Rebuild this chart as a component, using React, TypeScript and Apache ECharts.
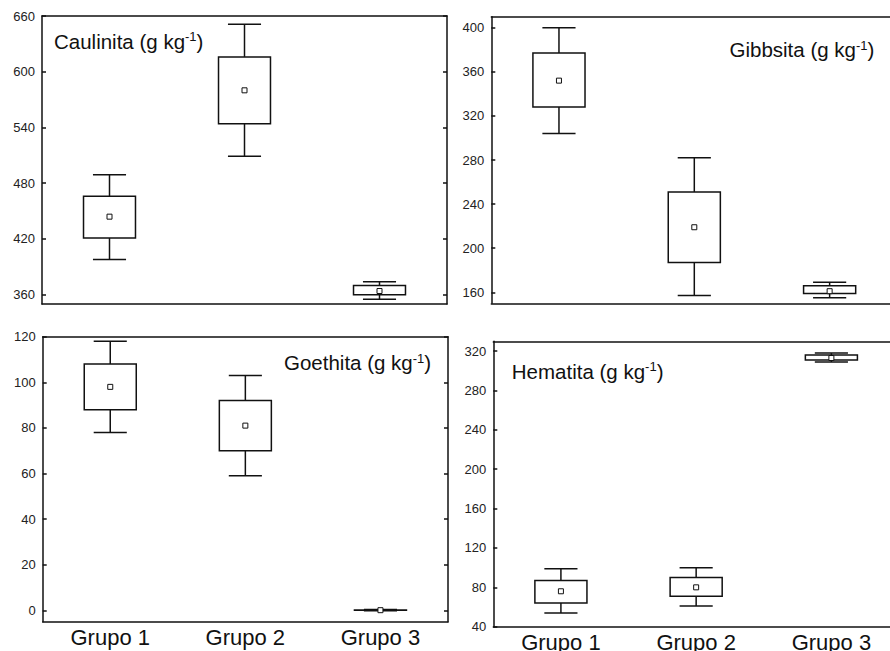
import React, { useEffect, useRef } from "react";
import * as echarts from "echarts";

const groups = ["Grupo 1", "Grupo 2", "Grupo 3"];

// each row: [min, Q1, Q3, max, mean]
const caulinita = [
  [398, 421, 466, 489, 444],
  [509, 544, 616, 651, 580],
  [355, 360, 370, 374, 364],
];
const gibbsita = [
  [304, 328, 377, 400, 352],
  [157, 187, 251, 282, 219],
  [155, 159, 166, 169, 161],
];
const goethita = [
  [78, 88, 108, 118, 98],
  [59, 70, 92, 103, 81],
  [-0.2, 0, 0.1, 0.3, 0.05],
];
const hematita = [
  [54, 64, 87, 99, 76],
  [61, 71, 90, 100, 80],
  [309, 311, 316, 318, 313],
];

const caulinitaTicks = [360, 420, 480, 540, 600, 660];
const gibbsitaTicks = [160, 200, 240, 280, 320, 360, 400];
const goethitaTicks = [0, 20, 40, 60, 80, 100, 120];
const hematitaTicks = [40, 80, 120, 160, 200, 240, 280, 320];

const FONT = "'Liberation Sans', Arial, Helvetica, sans-serif";
const INK = "#111";

const panels = [
  {
    name: "Caulinita",
    data: caulinita,
    ticks: caulinitaTicks,
    min: 350,
    max: 660,
    grid: { left: 42, top: 16, width: 405, height: 288 },
    titleLeft: 54,
    titleTop: 30.2,
    xLabels: false,
  },
  {
    name: "Gibbsita",
    data: gibbsita,
    ticks: gibbsitaTicks,
    min: 150,
    max: 410,
    grid: { left: 491.3, top: 16.7, width: 406, height: 286.6 },
    titleLeft: 729.5,
    titleTop: 38.6,
    xLabels: false,
  },
  {
    name: "Goethita",
    data: goethita,
    ticks: goethitaTicks,
    min: -5,
    max: 120,
    grid: { left: 42.7, top: 336.7, width: 405.3, height: 285 },
    titleLeft: 284,
    titleTop: 351.9,
    xLabels: true,
  },
  {
    name: "Hematita",
    data: hematita,
    ticks: hematitaTicks,
    min: 40,
    max: 330,
    grid: { left: 493.3, top: 341.3, width: 405.7, height: 285.4 },
    titleLeft: 511.8,
    titleTop: 360.2,
    xLabels: true,
  },
];

const renderBox = (params: any, api: any) => {
  const x = api.value(0);
  const pMin = api.coord([x, api.value(1)]);
  const pQ1 = api.coord([x, api.value(2)]);
  const pQ3 = api.coord([x, api.value(3)]);
  const pMax = api.coord([x, api.value(4)]);
  const pMean = api.coord([x, api.value(5)]);
  const band = api.size([1, 0])[0];
  const bw = band * 0.385;
  const cw = band * 0.245;
  const cx = pQ1[0];
  const st = { stroke: INK, lineWidth: 1.5, fill: null };
  return {
    type: "group",
    children: [
      { type: "line", shape: { x1: cx, y1: pQ3[1], x2: cx, y2: pMax[1] }, style: st },
      { type: "line", shape: { x1: cx, y1: pQ1[1], x2: cx, y2: pMin[1] }, style: st },
      { type: "line", shape: { x1: cx - cw / 2, y1: pMax[1], x2: cx + cw / 2, y2: pMax[1] }, style: st },
      { type: "line", shape: { x1: cx - cw / 2, y1: pMin[1], x2: cx + cw / 2, y2: pMin[1] }, style: st },
      {
        type: "rect",
        shape: { x: cx - bw / 2, y: pQ3[1], width: bw, height: pQ1[1] - pQ3[1] },
        style: { stroke: INK, lineWidth: 1.5, fill: "#fff" },
      },
      {
        type: "rect",
        shape: { x: pMean[0] - 2.5, y: pMean[1] - 2.5, width: 5, height: 5 },
        style: { stroke: INK, lineWidth: 1, fill: "#fff" },
      },
    ],
  };
};

export default function App() {
  const ref = useRef<HTMLDivElement>(null);

  useEffect(() => {
    if (!ref.current) return;
    const chart = echarts.init(ref.current, null, { renderer: "svg" });
    const lineStyle = { color: INK, width: 1.5 };

    const grid: any[] = [];
    const xAxis: any[] = [];
    const yAxis: any[] = [];
    const series: any[] = [];
    const title: any[] = [];

    panels.forEach((p, i) => {
      grid.push({ ...p.grid, containLabel: false, outerBoundsMode: "none" });
      xAxis.push({
        gridIndex: i,
        type: "category",
        data: groups,
        position: "bottom",
        axisLine: { onZero: false, lineStyle },
        axisTick: { inside: true, length: 4, lineStyle },
        axisLabel: {
          show: p.xLabels,
          fontSize: 22,
          color: INK,
          fontFamily: FONT,
          margin: 5,
        },
        splitLine: { show: false },
      });
      xAxis.push({
        gridIndex: i,
        type: "category",
        data: groups,
        position: "top",
        axisLine: { onZero: false, lineStyle },
        axisTick: { inside: true, length: 4, lineStyle },
        axisLabel: { show: false },
        splitLine: { show: false },
      });
      yAxis.push({
        gridIndex: i,
        type: "value",
        min: p.min,
        max: p.max,
        position: "left",
        axisLine: { show: true, onZero: false, lineStyle },
        axisTick: { show: true, inside: true, length: 4, lineStyle, customValues: p.ticks },
        axisLabel: {
          customValues: p.ticks,
          fontSize: 13,
          color: "#222",
          fontFamily: FONT,
          margin: 7,
        },
        splitLine: { show: false },
      });
      yAxis.push({
        gridIndex: i,
        type: "value",
        min: p.min,
        max: p.max,
        position: "right",
        axisLine: { show: true, onZero: false, lineStyle },
        axisTick: { show: true, inside: true, length: 4, lineStyle, customValues: p.ticks },
        axisLabel: { show: false },
        splitLine: { show: false },
      });
      series.push({
        type: "custom",
        name: p.name,
        xAxisIndex: 2 * i,
        yAxisIndex: 2 * i,
        renderItem: renderBox,
        encode: { x: 0, y: [1, 2, 3, 4, 5] },
        data: p.data.map((r, k) => [k, ...r]),
      });
      title.push({
        left: p.titleLeft,
        top: p.titleTop,
        padding: 0,
        text: `{a|${p.name} (g kg}{s|-1}{a|)}`,
        textStyle: {
          fontWeight: "normal",
          rich: {
            a: {
              fontSize: 20.5,
              lineHeight: 22,
              fontFamily: FONT,
              fontWeight: "normal",
              color: INK,
              verticalAlign: "middle",
            },
            s: {
              fontSize: 13,
              lineHeight: 7,
              fontFamily: FONT,
              fontWeight: "normal",
              color: INK,
              verticalAlign: "top",
            },
          },
        },
      });
    });

    chart.setOption({
      animation: false,
      backgroundColor: "#fff",
      title,
      grid,
      xAxis,
      yAxis,
      series,
    });

    return () => chart.dispose();
  }, []);

  return (
    <div
      ref={ref}
      style={{ position: "absolute", left: 0, top: 0, width: 890, height: 651 }}
    />
  );
}
